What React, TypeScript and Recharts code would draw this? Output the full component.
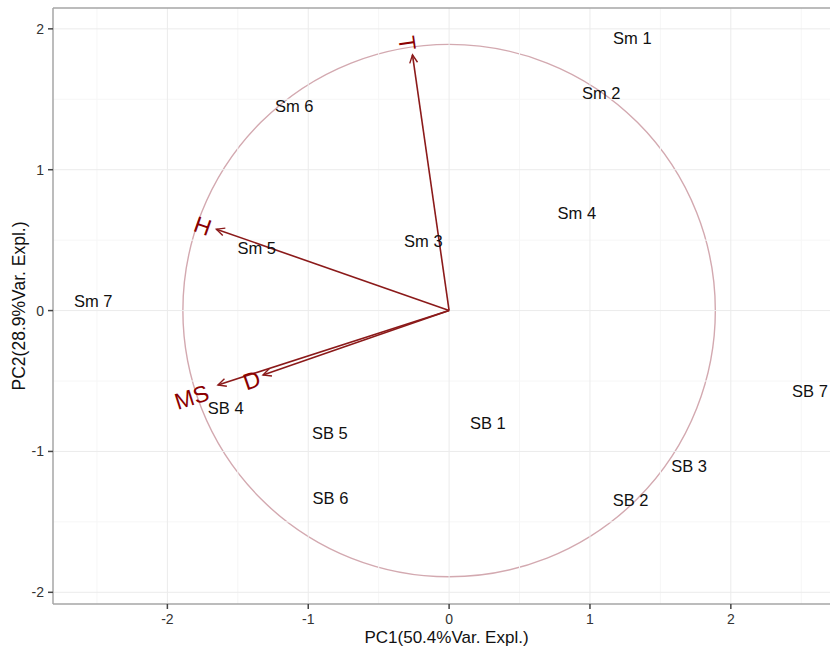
import React from "react";
import {
  ScatterChart,
  Scatter,
  XAxis,
  YAxis,
  ReferenceLine,
  ReferenceArea,
} from "recharts";

// sample scores (PC1, PC2)
const sampleNames = ["Sm 1", "Sm 2", "Sm 3", "Sm 4", "Sm 5", "Sm 6", "Sm 7", "SB 1", "SB 2", "SB 3", "SB 4", "SB 5", "SB 6", "SB 7"];
const pc1 = [1.301, 1.08, -0.183, 0.907, -1.366, -1.099, -2.526, 0.275, 1.288, 1.704, -1.586, -0.847, -0.842, 2.562];
const pc2 = [1.932, 1.541, 0.49, 0.689, 0.443, 1.449, 0.071, -0.795, -1.347, -1.103, -0.693, -0.871, -1.332, -0.57];

// variable loadings (arrow tips) and where their names sit
const varNames = ["T", "H", "MS", "D"];
const loadX = [-0.26, -1.652, -1.641, -1.321];
const loadY = [1.816, 0.578, -0.528, -0.457];
const varLabelX = [-0.295, -1.749, -1.827, -1.401];
const varLabelY = [1.9, 0.602, -0.613, -0.492];

const circleRadius = 1.89;

const xDomain = [-2.812, 2.704];
const yDomain = [-2.083, 2.148];
const majorTicks = [-2, -1, 0, 1, 2];
const xMinor = [-2.5, -1.5, -0.5, 0.5, 1.5, 2.5];
const yMinor = [-1.5, -0.5, 0.5, 1.5];

const ARROW = "#8b1a1a";
const FONT = "'Liberation Sans', Arial, sans-serif";

const samples = sampleNames.map((name, i) => ({ name, x: pc1[i], y: pc2[i] }));
const varLabels = varNames.map((name, i) => ({
  name,
  x: varLabelX[i],
  y: varLabelY[i],
  // ggbiplot rotates each name along its arrow
  angle: (Math.atan(loadY[i] / loadX[i]) * 180) / Math.PI,
}));

const ArrowShape = (props: any) => {
  const { x1, y1, x2, y2 } = props;
  const a = Math.atan2(y2 - y1, x2 - x1);
  const len = 9;
  const spread = Math.PI / 7;
  const p1 = [x2 - len * Math.cos(a - spread), y2 - len * Math.sin(a - spread)];
  const p2 = [x2 - len * Math.cos(a + spread), y2 - len * Math.sin(a + spread)];
  return (
    <g>
      <line x1={x1} y1={y1} x2={x2} y2={y2} stroke={ARROW} strokeWidth={1.6} />
      <polyline
        points={`${p1[0]},${p1[1]} ${x2},${y2} ${p2[0]},${p2[1]}`}
        fill="none"
        stroke={ARROW}
        strokeWidth={1.4}
      />
    </g>
  );
};

const CircleShape = (props: any) => {
  const { x, y, width, height } = props;
  return (
    <ellipse
      cx={x + width / 2}
      cy={y + height / 2}
      rx={width / 2}
      ry={height / 2}
      fill="none"
      stroke="#d3a9b0"
      strokeWidth={1.4}
    />
  );
};

const SampleLabel = (props: any) => (
  <text
    x={props.cx}
    y={props.cy}
    dy="0.36em"
    textAnchor="middle"
    fontFamily={FONT}
    fontSize={16.5}
    fill="#111"
  >
    {props.payload.name}
  </text>
);

const VarLabel = (props: any) => (
  <text
    x={props.cx}
    y={props.cy}
    dy="0.36em"
    textAnchor="middle"
    fontFamily={FONT}
    fontSize={23}
    fill="#8b0000"
    transform={`rotate(${-props.payload.angle} ${props.cx} ${props.cy})`}
  >
    {props.payload.name}
  </text>
);

const tickStyle = { fontFamily: FONT, fontSize: 14, fill: "#333" };

const App = () => (
  <div style={{ position: "absolute", left: 0, top: 0, background: "#fff" }}>
    <ScatterChart width={830} height={646} margin={{ top: 8, right: 0, bottom: 0, left: 0 }}>
      {xMinor.map((v) => (
        <ReferenceLine key={`xm${v}`} x={v} stroke="#f6f6f6" strokeWidth={1} />
      ))}
      {yMinor.map((v) => (
        <ReferenceLine key={`ym${v}`} y={v} stroke="#f6f6f6" strokeWidth={1} />
      ))}
      {majorTicks.map((v) => (
        <ReferenceLine key={`xM${v}`} x={v} stroke="#ebebeb" strokeWidth={1} />
      ))}
      {majorTicks.map((v) => (
        <ReferenceLine key={`yM${v}`} y={v} stroke="#ebebeb" strokeWidth={1} />
      ))}
      <ReferenceLine y={yDomain[1]} stroke="#a6a6a6" strokeWidth={1.5} />
      <XAxis
        type="number"
        dataKey="x"
        domain={xDomain}
        ticks={majorTicks}
        allowDataOverflow
        height={42}
        stroke="#a6a6a6"
        strokeWidth={1.5}
        tickLine={{ stroke: "#444" }}
        tickSize={5}
        tickMargin={5}
        tick={tickStyle}
        label={{
          content: (p: any) => (
            <text
              x={p.viewBox.x + p.viewBox.width / 2 + 5}
              y={p.viewBox.y + 39}
              textAnchor="middle"
              fontFamily={FONT}
              fontSize={17}
              fill="#111"
            >
              PC1(50.4%Var. Expl.)
            </text>
          ),
        }}
      />
      <YAxis
        type="number"
        dataKey="y"
        domain={yDomain}
        ticks={majorTicks}
        allowDataOverflow
        width={53}
        stroke="#a6a6a6"
        strokeWidth={1.5}
        tickLine={{ stroke: "#444" }}
        tickSize={5}
        tickMargin={4}
        tick={tickStyle}
        label={{
          content: (p: any) => {
            const cx = p.viewBox.x + 19;
            const cy = p.viewBox.y + p.viewBox.height / 2;
            return (
              <text
                x={cx}
                y={cy}
                dy="0.36em"
                textAnchor="middle"
                fontFamily={FONT}
                fontSize={17.5}
                fill="#111"
                transform={`rotate(-90 ${cx} ${cy})`}
              >
                PC2(28.9%Var. Expl.)
              </text>
            );
          },
        }}
      />
      <ReferenceArea
        x1={-circleRadius}
        x2={circleRadius}
        y1={-circleRadius}
        y2={circleRadius}
        shape={CircleShape}
      />
      {varNames.map((n, i) => (
        <ReferenceLine
          key={`arrow-${n}`}
          segment={[
            { x: 0, y: 0 },
            { x: loadX[i], y: loadY[i] },
          ]}
          shape={ArrowShape}
        />
      ))}
      <Scatter data={samples} shape={SampleLabel} isAnimationActive={false} />
      <Scatter data={varLabels} shape={VarLabel} isAnimationActive={false} />
    </ScatterChart>
  </div>
);

export default App;
